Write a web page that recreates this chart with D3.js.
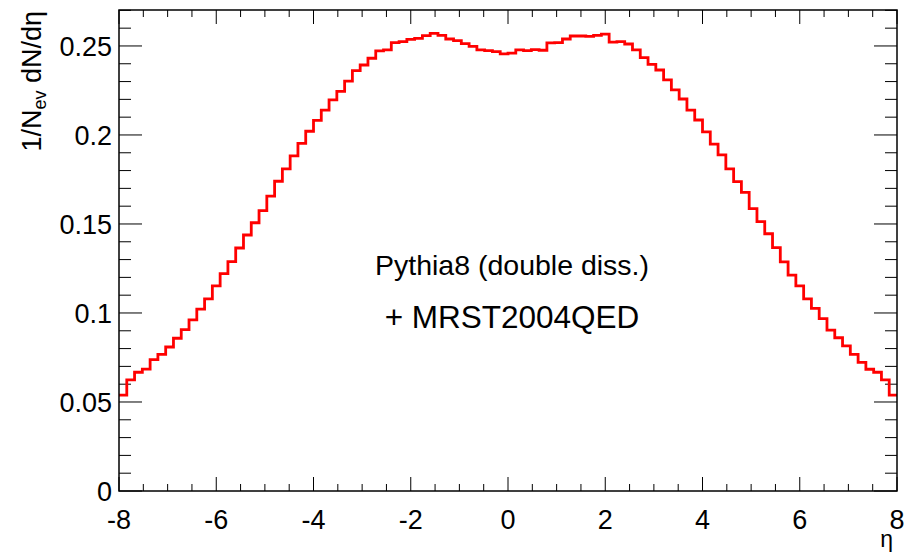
<!DOCTYPE html>
<html>
<head>
<meta charset="utf-8">
<script src="https://cdn.jsdelivr.net/npm/d3@7"></script>
<style>
  body { margin: 0; background: #fff; }
  svg text { font-family: "Liberation Sans", Arial, Helvetica, sans-serif; fill: #000; }
</style>
</head>
<body>
<div id="chart"></div>
<script>
// histogram binning: 100 bins from -8 to 8
let etaMin = -8, etaMax = 8, nBins = 100;
let binEdges = d3.range(nBins + 1).map(function (i) { return etaMin + i * (etaMax - etaMin) / nBins; });

// 1/Nev dN/deta per bin
let dndeta = [
  0.0539, 0.0624, 0.0667, 0.0685, 0.0738, 0.0768, 0.0809, 0.0858, 0.0906, 0.0961,
  0.1022, 0.1079, 0.1152, 0.1221, 0.1288, 0.1365, 0.1438, 0.1507, 0.1575, 0.1657,
  0.1740, 0.1809, 0.1882, 0.1953, 0.2021, 0.2082, 0.2140, 0.2197, 0.2245, 0.2302,
  0.2361, 0.2393, 0.2431, 0.2472, 0.2478, 0.2519, 0.2524, 0.2537, 0.2543, 0.2558,
  0.2571, 0.2560, 0.2539, 0.2530, 0.2513, 0.2498, 0.2478, 0.2474, 0.2468, 0.2455,
  0.2460, 0.2478, 0.2474, 0.2479, 0.2476, 0.2517, 0.2519, 0.2539, 0.2556, 0.2556,
  0.2554, 0.2560, 0.2567, 0.2522, 0.2524, 0.2511, 0.2478, 0.2435, 0.2397, 0.2365,
  0.2309, 0.2253, 0.2202, 0.2140, 0.2084, 0.2017, 0.1949, 0.1888, 0.1809, 0.1738,
  0.1678, 0.1586, 0.1513, 0.1445, 0.1367, 0.1287, 0.1213, 0.1152, 0.1079, 0.1026,
  0.0968, 0.0904, 0.0861, 0.0815, 0.0768, 0.0723, 0.0684, 0.0667, 0.0624, 0.0539
];

let xMajor = [-8, -6, -4, -2, 0, 2, 4, 6, 8];
let xLabels = ["-8", "-6", "-4", "-2", "0", "2", "4", "6", "8"];
let xMinor = d3.range(-8, 8.001, 0.5);
let yMajor = [0, 0.05, 0.1, 0.15, 0.2, 0.25];
let yLabels = ["0", "0.05", "0.1", "0.15", "0.2", "0.25"];
let yMinor = d3.range(0, 0.2705, 0.01);
let yMax = 0.2702;

let width = 911, height = 553;
let margin = { top: 10, right: 14, bottom: 62, left: 119 };

let svg = d3.select("#chart").append("svg")
  .attr("width", width)
  .attr("height", height);

let x = d3.scaleLinear()
  .domain([etaMin, etaMax])
  .range([margin.left, width - margin.right]);

let y = d3.scaleLinear()
  .domain([0, yMax])
  .range([height - margin.bottom, margin.top]);

let x0 = x.range()[0], x1 = x.range()[1];
let y0 = y.range()[0], y1 = y.range()[1];

// ticks (drawn inward on all four sides, ROOT style)
let ticks = svg.append("g").attr("stroke", "#000").attr("stroke-width", 1);

xMinor.forEach(function (v) {
  let major = xMajor.indexOf(Math.round(v * 100) / 100) >= 0;
  let len = major ? 14 : 7;
  ticks.append("line").attr("x1", x(v)).attr("x2", x(v)).attr("y1", y0).attr("y2", y0 - len);
  ticks.append("line").attr("x1", x(v)).attr("x2", x(v)).attr("y1", y1).attr("y2", y1 + len);
});

yMinor.forEach(function (v) {
  let major = yMajor.some(function (m) { return Math.abs(m - v) < 1e-6; });
  let len = major ? 23 : 12;
  ticks.append("line").attr("x1", x0).attr("x2", x0 + len).attr("y1", y(v)).attr("y2", y(v));
  ticks.append("line").attr("x1", x1).attr("x2", x1 - len).attr("y1", y(v)).attr("y2", y(v));
});

// histogram line
let pts = dndeta.map(function (v, i) { return [binEdges[i], v]; });
pts.push([binEdges[nBins], dndeta[nBins - 1]]);

let line = d3.line()
  .x(function (d) { return x(d[0]); })
  .y(function (d) { return y(d[1]); })
  .curve(d3.curveStepAfter);

svg.append("path")
  .datum(pts)
  .attr("d", line)
  .attr("fill", "none")
  .attr("stroke", "#ff0000")
  .attr("stroke-width", 2.8);

// frame
svg.append("rect")
  .attr("x", x0).attr("y", y1)
  .attr("width", x1 - x0).attr("height", y0 - y1)
  .attr("fill", "none")
  .attr("stroke", "#000")
  .attr("stroke-width", 1.5);

// tick labels
svg.append("g").selectAll("text")
  .data(xMajor)
  .enter().append("text")
  .attr("x", function (d) { return x(d); })
  .attr("y", 529)
  .attr("text-anchor", "middle")
  .attr("font-size", 27)
  .text(function (d, i) { return xLabels[i]; });

svg.append("g").selectAll("text")
  .data(yMajor)
  .enter().append("text")
  .attr("x", x0 - 7)
  .attr("y", function (d) { return y(d) + 10; })
  .attr("text-anchor", "end")
  .attr("font-size", 27)
  .text(function (d, i) { return yLabels[i]; });

// axis titles
svg.append("text")
  .attr("x", x1 - 4)
  .attr("y", 547)
  .attr("text-anchor", "end")
  .attr("font-size", 23)
  .text("η");

let yt = svg.append("text")
  .attr("transform", "translate(41," + (y1 + 1) + ") rotate(-90)")
  .attr("text-anchor", "end")
  .attr("font-size", 27);
yt.append("tspan").text("1/N");
yt.append("tspan").attr("font-size", 18).attr("dy", 5).text("ev");
yt.append("tspan").attr("dy", -5).text(" dN/dη");

// annotations
svg.append("text")
  .attr("x", 512).attr("y", 275)
  .attr("text-anchor", "middle")
  .attr("font-size", 28.5)
  .text("Pythia8 (double diss.)");

svg.append("text")
  .attr("x", 512).attr("y", 328)
  .attr("text-anchor", "middle")
  .attr("font-size", 31.5)
  .text("+ MRST2004QED");
</script>
</body>
</html>
